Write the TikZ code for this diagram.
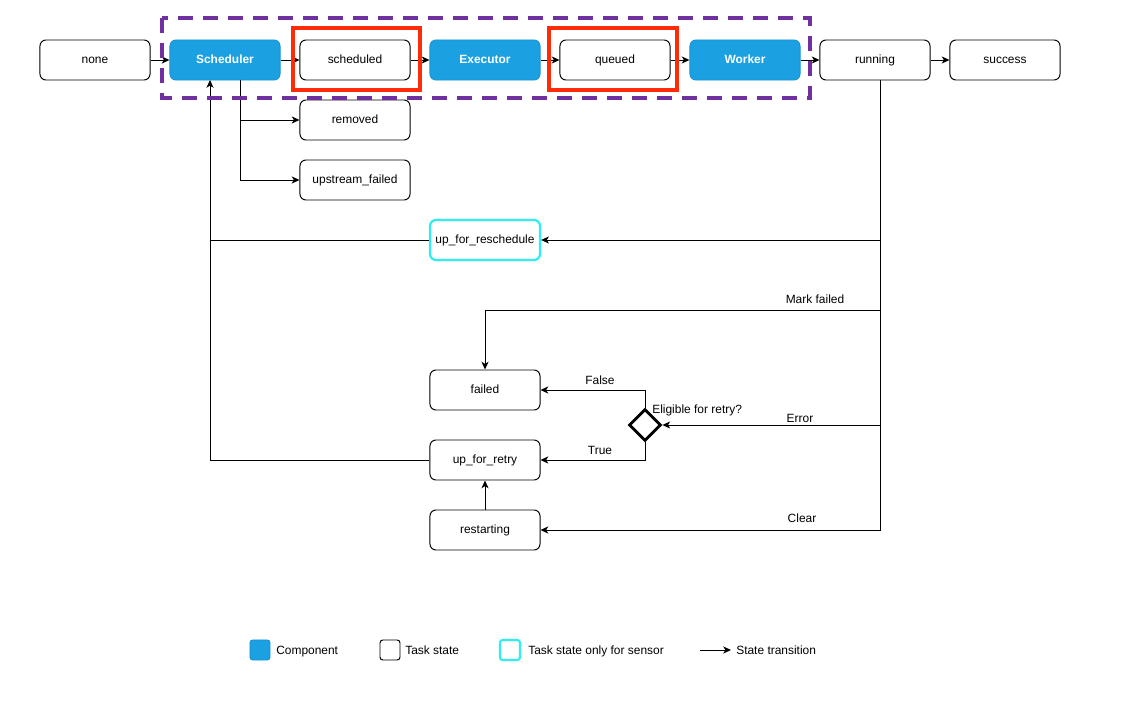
\documentclass[tikz,border=0pt]{standalone}
\usepackage{fontspec}
\setmainfont{Liberation Sans}
\usetikzlibrary{arrows.meta,shapes.geometric}
\definecolor{compblue}{HTML}{1BA1E2}
\definecolor{compedge}{HTML}{1993D2}
\definecolor{sensorcyan}{HTML}{2EEEF0}
\definecolor{hired}{HTML}{FF2A0A}
\definecolor{grouppurple}{HTML}{7030A0}
\tikzset{
    txt/.style={text height=1.5ex,text depth=0.5ex},
    state/.style={draw,txt,rounded corners=0.15cm,minimum width=2.75cm,minimum height=1cm,inner sep=0pt,line width=0.7pt},
    comp/.style={state,draw=compedge,fill=compblue,text=white,font=\fontsize{8.5}{10}\selectfont\bfseries},
    sensor/.style={state,draw=sensorcyan,line width=1.6pt},
    decision/.style={draw,diamond,minimum width=0.8cm,minimum height=0.8cm,inner sep=0pt,line width=2pt},
    arr/.style={-{Stealth[length=5.5pt,width=5pt,inset=1.5pt]},line width=0.6pt},
    hilite/.style={draw=hired,line width=3pt},
    groupline/.style={draw=grouppurple,line width=2.6pt,dash pattern=on 0.375cm off 0.25cm},
    legsq/.style={draw,rounded corners=0.07cm,minimum size=0.5cm,inner sep=0pt,line width=0.7pt},
    lbl/.style={txt,inner sep=0pt}
}
\begin{document}
\begin{tikzpicture}[x=0.025cm,y=-0.025cm,font=\fontsize{8.5}{10}\selectfont]
    \useasboundingbox (0,0) rectangle (1121,722);
    \node[state] (none) at (95,60) {none};
    \node[comp] (sched) at (225,60) {Scheduler};
    \node[state] (scheduled) at (355,60) {scheduled};
    \node[comp] (exec) at (485,60) {Executor};
    \node[state] (queued) at (615,60) {queued};
    \node[comp] (worker) at (745,60) {Worker};
    \node[state] (running) at (875,60) {running};
    \node[state] (success) at (1005,60) {success};
    \node[state] (removed) at (355,120) {removed};
    \node[state] (upfailed) at (355,180) {upstream\_failed};
    \node[sensor] (resched) at (485,240) {up\_for\_reschedule};
    \node[state] (failed) at (485,390) {failed};
    \node[state] (retry) at (485,460) {up\_for\_retry};
    \node[state] (restart) at (485,530) {restarting};
    \node[decision] (elig) at (645,425) {};
    \coordinate (schedfork) at (240,80);
    \coordinate (schedin) at (210,80);
    \coordinate (runfork) at (880,80);
    \coordinate (markfail) at (880,310);
    \foreach \a/\b in {none/sched,sched/scheduled,scheduled/exec,exec/queued,queued/worker,worker/running,running/success}
        \draw[arr] (\a) -- (\b);
    \draw[arr] (schedfork) |- (removed);
    \draw[arr] (schedfork) |- (upfailed);
    \draw[arr] (runfork) |- (resched);
    \draw[arr] (markfail) -| (failed);
    \draw[arr] (runfork) |- (elig);
    \draw[arr] (runfork) |- (restart);
    \draw[arr] (elig.north) |- (failed);
    \draw[arr] (elig.south) |- (retry);
    \draw[arr] (restart) -- (retry);
    \draw[arr] (retry) -| (schedin);
    \draw (resched) -- (resched -| schedin);
    \node[lbl] (lblmark) at (815,300) {Mark failed};
    \node[lbl] (lblerror) at (800,419) {Error};
    \node[lbl] (lblclear) at (802,519) {Clear};
    \node[lbl] (lblfalse) at (600,381) {False};
    \node[lbl] (lbltrue) at (600,451) {True};
    \node[lbl,anchor=west] (lblelig) at (652,410) {Eligible for retry?};
    \draw[groupline] (162,18) rectangle (810,98);
    \draw[hilite] (293,28) rectangle (420,90);
    \draw[hilite] (549,28) rectangle (677,90);
    \node[legsq,draw=compedge,fill=compblue] (legcomp) at (260,650) {};
    \node[lbl,anchor=west] (legcomptxt) at (276,651) {Component};
    \node[legsq] (legstate) at (390,650) {};
    \node[lbl,anchor=west] (legstatetxt) at (405,651) {Task state};
    \node[legsq,draw=sensorcyan,line width=1.6pt] (legsensor) at (510,650) {};
    \node[lbl,anchor=west] (legsensortxt) at (528,651) {Task state only for sensor};
    \coordinate (legfrom) at (700,650);
    \coordinate (legto) at (731,650);
    \draw[arr] (legfrom) -- (legto);
    \node[lbl,anchor=west] (legarrtxt) at (736,651) {State transition};
\end{tikzpicture}
\end{document}
